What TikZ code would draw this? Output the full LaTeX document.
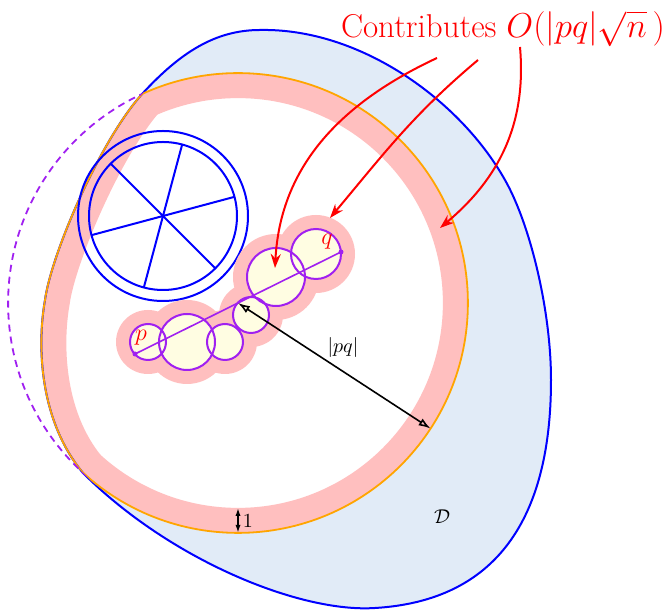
\documentclass[tikz,border=0pt]{standalone}
\usetikzlibrary{arrows.meta,calc}
\definecolor{regionblue}{RGB}{225,235,247}
\definecolor{rimorange}{RGB}{255,165,0}
\definecolor{discpurple}{RGB}{160,32,240}
\definecolor{discfill}{RGB}{255,253,226}

\def\regionD{(83,137) .. controls (39,190) and (37,265) .. (45,310)
  .. controls (51,355) and (100,470) .. (143,517)
  .. controls (180,557) and (215,580) .. (260,580)
  .. controls (360,582) and (460,510) .. (505,430)
  .. controls (530,386) and (551,300) .. (551,230)
  .. controls (551,110) and (510,10) .. (375,2)
  .. controls (300,-3) and (170,50) .. (83,137) -- cycle}
\def\rad{229.9}

\begin{document}
\begin{tikzpicture}[
  x=.5pt, y=.5pt,
  font=\normalsize,
  boundary/.style={blue, line width=1pt},
  rim/.style={rimorange, line width=.9pt},
  band/.style={pink, line width=25pt},
  halo/.style={fill=pink},
  disc/.style={draw=discpurple, line width=1pt},
  wheel/.style={blue, line width=1pt},
  pointer/.style={red, line width=1pt, -{Stealth[length=7pt,width=5pt]}},
  measure/.style={black, line width=.8pt, {Latex[open,length=6pt,width=4pt]}-{Latex[open,length=6pt,width=4pt]}},
  unitbar/.style={black, line width=.8pt, {Latex[open,length=4pt,width=2.6pt]}-{Latex[open,length=4pt,width=2.6pt]}},
  ptlabel/.style={text=red, font=\large, inner sep=1pt}
]
\useasboundingbox (0,0) rectangle (665,610);

\coordinate (p) at (135,256);
\coordinate (q) at (341,358);
\coordinate (m) at ($(p)!.5!(q)$);
\coordinate (hub) at (163,394);

% region D and the disc of radius |pq|
\fill[regionblue] \regionD;
\begin{scope}
  \clip \regionD;
  \fill[white] (m) circle (\rad);
\end{scope}
\begin{scope}
  \clip \regionD;
  \clip (m) circle (\rad);
  \draw[band] (m) circle (\rad);
  \draw[band] \regionD;
\end{scope}
\draw[boundary] \regionD;
\begin{scope}
  \clip \regionD;
  \draw[rim] (m) circle (\rad);
\end{scope}
\begin{scope}
  \clip (m) circle (\rad);
  \draw[rim] \regionD;
\end{scope}
\begin{scope}[even odd rule]
  \clip (0,0) rectangle (665,610) \regionD;
  \draw[discpurple, line width=.9pt, dash pattern=on 3.5pt off 2.5pt] (m) circle (\rad);
\end{scope}

% wheel
\draw[wheel] (hub) circle (85) (hub) circle (74);
\foreach \a in {15,75,135}
  \draw[wheel] ($(hub)+(\a:74)$) -- ($(hub)+(\a+180:74)$);
\fill[blue] (hub) circle (2);

% chain of discs from p to q
\foreach \x/\y/\r in {148/268/18,187/268/28,225/268/18,251/295/18,276/333/29,316/356/25}
  \fill[halo] (\x,\y) circle (\r+14);
\foreach \x/\y/\r in {148/268/18,187/268/28,225/268/18,251/295/18,276/333/29,316/356/25}
  \fill[discfill] (\x,\y) circle (\r);
\foreach \x/\y/\r in {148/268/18,187/268/28,225/268/18,251/295/18,276/333/29,316/356/25}
  \draw[disc] (\x,\y) circle (\r);
\draw[discpurple, line width=.8pt] (p) -- (q);
\fill[discpurple] (p) circle (2.5) (q) circle (2.5);
\node[ptlabel] (lp) at (141,272) {$p$};
\node[ptlabel] (lq) at (327,368) {$q$};

% radius |pq| and band width 1
\coordinate (rimpt) at ($(m)+(-33.1:\rad)$);
\draw[measure] (m) -- (rimpt);
\node (lpq) at (343,262) {$|pq|$};
\coordinate (bot) at ($(m)+(0,-\rad)$);
\coordinate (botin) at ($(m)+(0,-\rad+25)$);
\draw[unitbar] (bot) -- (botin) node[midway, right, inner sep=2pt] (lone) {1};
\node (lD) at (442,93) {$\mathcal{D}$};

% contributions
\node[text=red, anchor=base, inner sep=0pt, font=\fontsize{16.5}{19}\selectfont] (title) at (503,572) {Contributes $O(|pq|\sqrt{n}\,)$};
\coordinate (s1) at (437,552);
\coordinate (s2) at (478,550);
\coordinate (s3) at (520,563);
\coordinate (t1) at (275,342);
\coordinate (t2) at (330,392);
\coordinate (t3) at (440,382);
\draw[pointer] (s1) to[out=205, in=87] (t1);
\draw[pointer] (s2) to[out=220, in=50] (t2);
\draw[pointer] (s3) to[out=-85, in=40] (t3);
\end{tikzpicture}
\end{document}
